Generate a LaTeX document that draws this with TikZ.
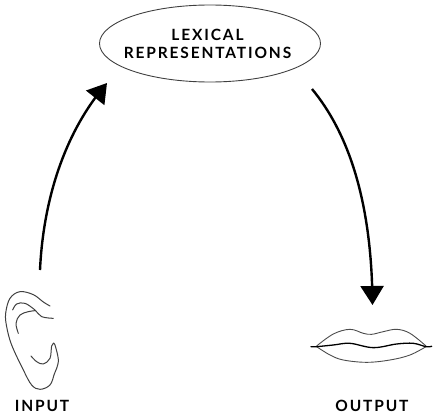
\documentclass[tikz,border=0pt]{standalone}
\usepackage{fontspec}
\setmainfont[LetterSpace=12]{Lato}
\usetikzlibrary{arrows.meta,shapes.geometric,bending}
\tikzset{
  label text/.style={font=\fontsize{15.5}{18}\selectfont\bfseries,inner sep=0pt,align=center},
  flow/.style={line width=2.4pt,-{Triangle[length=19pt,width=23pt,flex=1]}},
  sketch/.style={line width=1pt,black!75,line cap=round,line join=round},
  lipline/.style={line width=0.9pt,black!70,line cap=round},
}
\begin{document}
\begin{tikzpicture}[x=1pt,y=-1pt]
\useasboundingbox (0,0) rectangle (437,420);
\node[ellipse,draw=black!75,line width=0.9pt,minimum width=221pt,minimum height=77pt,inner sep=0pt] (lex) at (210,43.5) {};
\node[label text] (lextext) at (207.5,43.5) {LEXICAL\\REPRESENTATIONS};
\coordinate (earTop) at (40,270);
\coordinate (lexIn) at (107,83);
\coordinate (lexOut) at (312,89);
\coordinate (lipsTop) at (372.5,305);
\draw[flow] (earTop) .. controls (43,205) and (62,135) .. (lexIn);
\draw[flow] (lexOut) .. controls (350,135) and (372,205) .. (lipsTop);
\begin{scope}[shift={(0,270)},x=0.3333pt,y=-0.3333pt]
\draw[sketch] plot[smooth,tension=0.6] coordinates {(150,108) (130,96) (100,74) (60,65) (30,85) (17,130) (20,170) (35,225) (70,300) (95,345) (120,358) (150,345) (163,312) (170,295) (175,268) (165,225) (160,220)};
\draw[sketch] plot[smooth,tension=0.6] coordinates {(162,220) (155,228) (150,265) (130,282) (110,275) (93,258)};
\draw[sketch] plot[smooth,tension=0.6] coordinates {(38,120) (50,102) (75,100) (105,120) (125,140) (160,145)};
\draw[sketch] plot[smooth,tension=0.6] coordinates {(55,190) (48,160) (60,135) (85,125) (105,122)};
\end{scope}
\begin{scope}[shift={(300,270)},x=0.3333pt,y=-0.3333pt]
\draw[lipline] plot[smooth,tension=0.6] coordinates {(50,228) (100,192) (150,178) (190,190) (215,193) (250,185) (290,178) (330,190) (378,228)};
\draw[lipline] plot[smooth,tension=0.6] coordinates {(50,230) (90,255) (130,270) (200,277) (270,270) (330,255) (378,230)};
\draw[line width=1.3pt,line cap=round] plot[smooth,tension=0.6] coordinates {(33,230) (50,230) (100,225) (150,220) (220,233) (290,222) (340,220) (378,230) (395,229)};
\end{scope}
\node[label text] (input) at (42,405.7) {INPUT};
\node[label text] (output) at (372,405.7) {OUTPUT};
\end{tikzpicture}
\end{document}
